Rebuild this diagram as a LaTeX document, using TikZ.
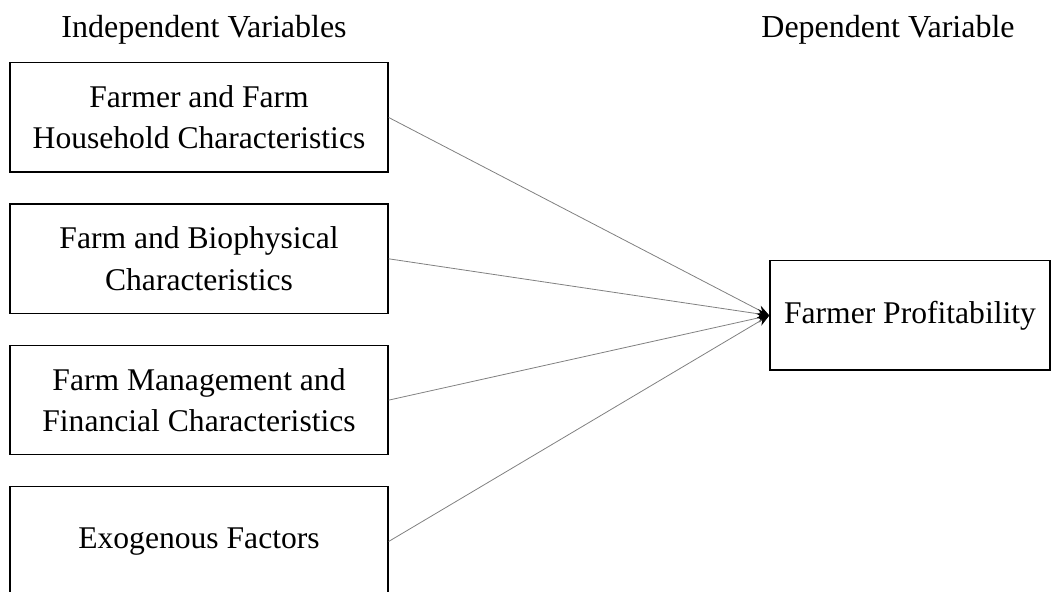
\documentclass[tikz,border=0pt]{standalone}
\usepackage{fontspec}
\setmainfont{Liberation Serif}
\usetikzlibrary{arrows.meta,positioning}

\begin{document}
\begin{tikzpicture}[
    var/.style={draw, line width=1pt, fill=white, minimum width=283.5pt, minimum height=82pt, align=center, inner sep=2pt, font=\fontsize{23.7}{31}\selectfont},
    head/.style={font=\fontsize{24}{28}\selectfont},
    arrow/.style={-{Stealth[color=black, length=9pt, width=7pt]}, gray, line width=0.6pt},
    node distance=23pt
]
\useasboundingbox (0pt,0pt) rectangle (795pt,-444pt);

\node[head] (indep) at (153pt,-22.5pt) {Independent Variables};
\node[head] (dep) at (666pt,-22.5pt) {Dependent Variable};

\node[var] (hh) at (149.25pt,-88.1pt) {Farmer and Farm\\Household Characteristics};
\node[var, below=of hh] (bio) {Farm and Biophysical\\Characteristics};
\node[var, below=of bio] (mgmt) {Farm Management and\\Financial Characteristics};
\node[var, below=of mgmt] (exo) {Exogenous Factors};

\node[var, minimum width=210pt] (prof) at (682.5pt,-236.6pt) {Farmer Profitability};

\draw[arrow] (hh.east) -- (prof.west);
\draw[arrow] (bio.east) -- (prof.west);
\draw[arrow] (mgmt.east) -- (prof.west);
\draw[arrow] (exo.east) -- (prof.west);

\end{tikzpicture}
\end{document}
